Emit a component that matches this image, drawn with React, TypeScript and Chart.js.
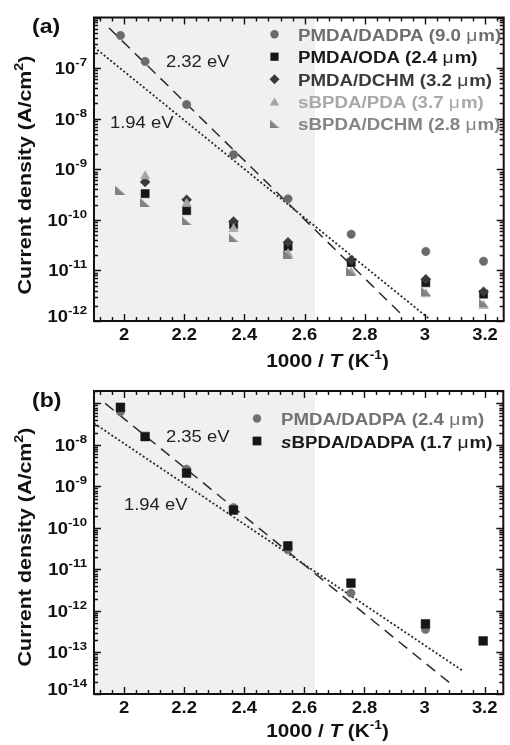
import React, { useEffect, useRef } from "react";
import { Chart, registerables } from "chart.js";
Chart.register(...registerables);

// ---------- data: panel (a) ----------
const xA_DADPA = [1.988, 2.07, 2.208, 2.364, 2.545, 2.755, 3.003, 3.195];
const yA_DADPA = [4.4e-7, 1.35e-7, 1.9e-8, 1.95e-9, 2.6e-10, 5.2e-11, 2.37e-11, 1.52e-11];
const xA_ODA = [2.07, 2.208, 2.364, 2.545, 2.755, 3.003, 3.195];
const yA_ODA = [3.3e-10, 1.52e-10, 8.0e-11, 3.0e-11, 1.43e-11, 5.7e-12, 3.4e-12];
const xA_DCHM = [2.07, 2.208, 2.364, 2.545, 2.755, 3.003, 3.195];
const yA_DCHM = [5.6e-10, 2.5e-10, 9.3e-11, 3.6e-11, 1.6e-11, 6.7e-12, 3.8e-12];
const xA_sPDA = [2.07, 2.208, 2.364, 2.545, 2.755, 3.003, 3.195];
const yA_sPDA = [7.3e-10, 2.07e-10, 6.6e-11, 2.1e-11, 9.1e-12, 3.4e-12, 2.0e-12];
const xA_sDCHM = [1.988, 2.07, 2.208, 2.364, 2.545, 2.755, 3.003, 3.195];
const yA_sDCHM = [3.8e-10, 2.2e-10, 9.6e-11, 4.4e-11, 2.1e-11, 9.5e-12, 3.9e-12, 2.3e-12];
const fitA_232_x = [1.95, 2.931];
const fitA_232_y = [6.2e-7, 1.2e-12];
const fitA_194_x = [1.9, 3.013];
const fitA_194_y = [2.6e-7, 1.12e-12];

// ---------- data: panel (b) ----------
const xB_DADPA = [1.988, 2.208, 2.364, 2.545, 2.755, 3.003];
const yB_DADPA = [6.3e-8, 2.6e-9, 3.1e-10, 3.0e-11, 2.7e-12, 3.6e-13];
const xB_sDADPA = [1.988, 2.07, 2.208, 2.364, 2.545, 2.755, 3.003, 3.195];
const yB_sDADPA = [8.1e-8, 1.6e-8, 2.1e-9, 2.7e-10, 3.7e-11, 4.7e-12, 4.9e-13, 1.9e-13];
const fitB_235_x = [1.937, 3.09];
const fitB_235_y = [1.01e-7, 1.7e-14];
const fitB_194_x = [1.9, 3.128];
const fitB_194_y = [3.33e-8, 3.58e-14];

// ---------- axes ----------
const xRange = [1.9, 3.262];
const xMajorTicks = [2, 2.2, 2.4, 2.6, 2.8, 3, 3.2];
const xTickLabels = ["2", "2.2", "2.4", "2.6", "2.8", "3", "3.2"];
const xMinorStep = 0.04;
const shadeRange = [1.9, 2.635];
const yRangeA = [1e-12, 1e-6];
const yLabelExpA = [-12, -11, -10, -9, -8, -7];
const yRangeB = [1e-14, 2e-7];
const yLabelExpB = [-14, -13, -12, -11, -10, -9, -8];

const FF = "'Liberation Sans', Arial, Helvetica, sans-serif";
const HS = 1.15;
const LHS = 1.17;
const B = (s: number) => `bold ${s}px ${FF}`;
const BI = (s: number) => `italic bold ${s}px ${FF}`;
const R = (s: number) => `${s}px ${FF}`;

type Run = { t: string; font: string; dy?: number };

function drawRuns(
  ctx: CanvasRenderingContext2D,
  runs: Run[],
  x: number,
  y: number,
  align: "left" | "center" | "right",
  sx: number,
  color: string,
  rotate = false
) {
  ctx.save();
  ctx.translate(x, y);
  if (rotate) ctx.rotate(-Math.PI / 2);
  ctx.scale(sx, 1);
  ctx.textAlign = "left";
  ctx.textBaseline = "alphabetic";
  ctx.fillStyle = color;
  const widths = runs.map((r) => {
    ctx.font = r.font;
    return ctx.measureText(r.t).width;
  });
  const total = widths.reduce((a, b) => a + b, 0);
  let cx = align === "left" ? 0 : align === "center" ? -total / 2 : -total;
  runs.forEach((r, i) => {
    ctx.font = r.font;
    ctx.fillText(r.t, cx, r.dy || 0);
    cx += widths[i];
  });
  ctx.restore();
}

function makeCornerTri(color: string, w: number, h: number) {
  const c = document.createElement("canvas");
  c.width = w;
  c.height = h;
  const g = c.getContext("2d")!;
  g.fillStyle = color;
  g.beginPath();
  g.moveTo(0, 0);
  g.lineTo(0, h);
  g.lineTo(w, h);
  g.closePath();
  g.fill();
  return c;
}

const pts = (xs: number[], ys: number[]) => xs.map((x, i) => ({ x, y: ys[i] }));

type LegendItem = { runs: Run[]; color: string; marker: string; mcolor: string; img?: HTMLCanvasElement; size: number };

type Spec = {
  tag: string;
  tagBaseline: number;
  yLabelExps: number[];
  yTitleCY: number;
  xTitleBaseline: number;
  ann: { runs: Run[]; x: number; y: number }[];
  legend: { mx: number; tx: number; baselines: number[]; items: LegendItem[] };
};

function drawMarker(ctx: CanvasRenderingContext2D, it: LegendItem, x: number, y: number) {
  ctx.save();
  ctx.fillStyle = it.mcolor;
  ctx.beginPath();
  const r = it.size;
  if (it.marker === "circle") {
    ctx.arc(x, y, r, 0, Math.PI * 2);
  } else if (it.marker === "rect") {
    const s = r * Math.SQRT1_2;
    ctx.rect(x - s, y - s, 2 * s, 2 * s);
  } else if (it.marker === "rectRot") {
    ctx.moveTo(x - r, y);
    ctx.lineTo(x, y - r);
    ctx.lineTo(x + r, y);
    ctx.lineTo(x, y + r);
    ctx.closePath();
  } else if (it.marker === "triangle") {
    ctx.moveTo(x, y - r);
    ctx.lineTo(x + r * 0.866, y + r / 2);
    ctx.lineTo(x - r * 0.866, y + r / 2);
    ctx.closePath();
  } else if (it.img) {
    ctx.drawImage(it.img, x - it.img.width / 2, y - it.img.height / 2);
  }
  ctx.fill();
  ctx.restore();
}

function makePlugin(spec: Spec) {
  return {
    id: "decor",
    beforeDraw(chart: any) {
      const { ctx, chartArea: a, scales } = chart;
      ctx.save();
      ctx.fillStyle = "#ffffff";
      ctx.fillRect(0, 0, chart.width, chart.height);
      const x0 = Math.max(a.left, scales.x.getPixelForValue(shadeRange[0]));
      const x1 = Math.min(a.right, scales.x.getPixelForValue(shadeRange[1]));
      ctx.fillStyle = "#f0f0f0";
      ctx.fillRect(x0, a.top, x1 - x0, a.bottom - a.top);
      ctx.restore();
    },
    afterDraw(chart: any) {
      const { ctx, chartArea: a, scales } = chart;
      const xs = scales.x;
      const ys = scales.y;
      ctx.save();
      ctx.strokeStyle = "#111";
      ctx.lineWidth = 1.4;
      ctx.beginPath();
      const majLen = 7;
      const minLen = 4;
      for (let v = xMajorTicks[0] - 2 * xMinorStep; v <= xRange[1] + 1e-9; v += xMinorStep) {
        const vv = Math.round(v * 1000) / 1000;
        if (vv < xRange[0]) continue;
        const isMaj = xMajorTicks.some((m) => Math.abs(m - vv) < 1e-6);
        const L = isMaj ? majLen : minLen;
        const px = Math.round(xs.getPixelForValue(vv)) + 0.5;
        ctx.moveTo(px, a.bottom);
        ctx.lineTo(px, a.bottom - L);
        ctx.moveTo(px, a.top);
        ctx.lineTo(px, a.top + L);
      }
      const eMin = Math.floor(Math.log10(ys.min) + 1e-9);
      const eMax = Math.ceil(Math.log10(ys.max) - 1e-9);
      for (let e = eMin; e <= eMax; e++) {
        for (let m = 1; m <= 9; m++) {
          const v = m * Math.pow(10, e);
          if (v < ys.min * 0.999 || v > ys.max * 1.001) continue;
          const L = m === 1 ? majLen : minLen;
          const py = Math.round(ys.getPixelForValue(v)) + 0.5;
          ctx.moveTo(a.left, py);
          ctx.lineTo(a.left + L, py);
          ctx.moveTo(a.right, py);
          ctx.lineTo(a.right - L, py);
        }
      }
      ctx.stroke();
      ctx.lineWidth = 2;
      ctx.strokeRect(a.left, a.top, a.right - a.left, a.bottom - a.top);
      ctx.restore();

      xMajorTicks.forEach((v, i) => {
        drawRuns(ctx, [{ t: xTickLabels[i], font: B(16) }], xs.getPixelForValue(v), a.bottom + 19, "center", HS, "#111");
      });
      spec.yLabelExps.forEach((e) => {
        const py = ys.getPixelForValue(Math.pow(10, e));
        const base = Math.min(py + 6, a.bottom + 1);
        drawRuns(
          ctx,
          [
            { t: "10", font: B(16) },
            { t: String(e), font: B(11.5), dy: -8 },
          ],
          a.left - 7,
          base,
          "right",
          HS,
          "#111"
        );
      });
      drawRuns(
        ctx,
        [
          { t: "Current density (A/cm", font: B(18) },
          { t: "2", font: B(12), dy: -8 },
          { t: ")", font: B(18) },
        ],
        31,
        spec.yTitleCY,
        "center",
        1.19,
        "#111",
        true
      );
      drawRuns(
        ctx,
        [
          { t: "1000 / ", font: B(18) },
          { t: "T", font: BI(18) },
          { t: " (K", font: B(18) },
          { t: "-1", font: B(12), dy: -8 },
          { t: ")", font: B(18) },
        ],
        327.5,
        spec.xTitleBaseline,
        "center",
        HS,
        "#111"
      );
      drawRuns(ctx, [{ t: spec.tag, font: B(20) }], 32, spec.tagBaseline, "left", HS, "#111");
      spec.ann.forEach((an) => drawRuns(ctx, an.runs, an.x, an.y, "left", HS, "#222"));
      const lg = spec.legend;
      lg.items.forEach((it, i) => {
        const b = lg.baselines[i];
        drawMarker(ctx, it, lg.mx, b - 6.5 + (it.marker === "triangle" ? 1.3 : 0));
        drawRuns(ctx, it.runs, lg.tx, b, "left", LHS, it.color);
      });
    },
  };
}

const mu = (pre: string, post: string, lead?: Run): Run[] => [
  ...(lead ? [lead] : []),
  { t: pre, font: B(16) },
  { t: "\u03bc", font: R(16.5) },
  { t: " ", font: R(3) },
  { t: post, font: B(16) },
];

function baseOptions(yMin: number, yMax: number, pad: any) {
  return {
    responsive: false,
    animation: false as const,
    events: [] as any[],
    layout: { padding: pad },
    plugins: { legend: { display: false }, tooltip: { enabled: false }, title: { display: false } },
    scales: {
      x: { type: "linear" as const, min: xRange[0], max: xRange[1], display: false },
      y: { type: "logarithmic" as const, min: yMin, max: yMax, display: false },
    },
  };
}

const lineDs = (xs: number[], ys: number[], dash: number[], width: number) => ({
  data: pts(xs, ys),
  showLine: true,
  pointRadius: 0,
  borderColor: "#2a2a2a",
  borderWidth: width,
  borderDash: dash,
  fill: false,
  order: 20,
});

const ptDs = (label: string, xs: number[], ys: number[], style: any, color: string, r: number, order: number) => ({
  label,
  data: pts(xs, ys),
  showLine: false,
  pointStyle: style,
  pointRadius: r,
  pointBackgroundColor: color,
  pointBorderColor: color,
  pointBorderWidth: 0.5,
  order,
});

export default function App() {
  const refA = useRef<HTMLCanvasElement>(null);
  const refB = useRef<HTMLCanvasElement>(null);
  useEffect(() => {
    const cA_circle = "#6a6a6a";
    const cA_sq = "#161616";
    const cA_dia = "#3a3a3a";
    const cA_tri = "#a6a6a6";
    const cA_rt = "#828282";
    const rtImg = makeCornerTri(cA_rt, 10, 9);

    const specA: Spec = {
      tag: "(a)",
      tagBaseline: 33,
      yLabelExps: yLabelExpA,
      yTitleCY: 175,
      xTitleBaseline: 367,
      ann: [
        { runs: [{ t: "2.32 eV", font: R(16) }], x: 166, y: 67 },
        { runs: [{ t: "1.94 eV", font: R(16) }], x: 110, y: 128 },
      ],
      legend: {
        mx: 274.5,
        tx: 298,
        baselines: [40.7, 63.2, 85.7, 108, 130.3],
        items: [
          { runs: mu("PMDA/DADPA (9.0 ", "m)"), color: "#6e6e6e", marker: "circle", mcolor: cA_circle, size: 4.2 },
          { runs: mu("PMDA/ODA (2.4 ", "m)"), color: "#1a1a1a", marker: "rect", mcolor: cA_sq, size: 5.8 },
          { runs: mu("PMDA/DCHM (3.2 ", "m)"), color: "#3a3a3a", marker: "rectRot", mcolor: cA_dia, size: 5 },
          { runs: mu("sBPDA/PDA (3.7 ", "m)"), color: "#a8a8a8", marker: "triangle", mcolor: cA_tri, size: 5.5 },
          { runs: mu("sBPDA/DCHM (2.8 ", "m)"), color: "#848484", marker: "img", mcolor: cA_rt, img: rtImg, size: 5 },
        ],
      },
    };

    const cB_circle = "#707070";
    const cB_sq = "#161616";
    const specB: Spec = {
      tag: "(b)",
      tagBaseline: 37,
      yLabelExps: yLabelExpB,
      yTitleCY: 177,
      xTitleBaseline: 367,
      ann: [
        { runs: [{ t: "2.35 eV", font: R(16) }], x: 166, y: 71.7 },
        { runs: [{ t: "1.94 eV", font: R(16) }], x: 124, y: 140 },
      ],
      legend: {
        mx: 257,
        tx: 281,
        baselines: [55, 77.5],
        items: [
          { runs: mu("PMDA/DADPA (2.4 ", "m)"), color: "#737373", marker: "circle", mcolor: cB_circle, size: 4.2 },
          {
            runs: mu("BPDA/DADPA (1.7 ", "m)", { t: "s", font: BI(16) }),
            color: "#1a1a1a",
            marker: "rect",
            mcolor: cB_sq,
            size: 6.2,
          },
        ],
      },
    };

    const chartA = new Chart(refA.current!, {
      type: "scatter",
      data: {
        datasets: [
          lineDs(fitA_232_x, fitA_232_y, [11, 7], 1.5),
          lineDs(fitA_194_x, fitA_194_y, [2, 2.2], 1.8),
          ptDs("PMDA/DADPA (9.0 μm)", xA_DADPA, yA_DADPA, "circle", cA_circle, 4.2, 5),
          ptDs("PMDA/ODA (2.4 μm)", xA_ODA, yA_ODA, "rect", cA_sq, 5.8, 4),
          ptDs("PMDA/DCHM (3.2 μm)", xA_DCHM, yA_DCHM, "rectRot", cA_dia, 5, 3),
          ptDs("sBPDA/PDA (3.7 μm)", xA_sPDA, yA_sPDA, "triangle", cA_tri, 5.5, 2),
          ptDs("sBPDA/DCHM (2.8 μm)", xA_sDCHM, yA_sDCHM, rtImg, cA_rt, 5, 1),
        ] as any,
      },
      options: baseOptions(yRangeA[0], yRangeA[1], { left: 94, top: 17.5, right: 2, bottom: 49 }) as any,
      plugins: [makePlugin(specA)],
    });

    const chartB = new Chart(refB.current!, {
      type: "scatter",
      data: {
        datasets: [
          lineDs(fitB_235_x, fitB_235_y, [11, 7], 1.5),
          lineDs(fitB_194_x, fitB_194_y, [2, 2.2], 1.8),
          ptDs("PMDA/DADPA (2.4 μm)", xB_DADPA, yB_DADPA, "circle", cB_circle, 4.2, 2),
          ptDs("sBPDA/DADPA (1.7 μm)", xB_sDADPA, yB_sDADPA, "rect", cB_sq, 6.2, 1),
        ] as any,
      },
      options: baseOptions(yRangeB[0], yRangeB[1], { left: 94, top: 21, right: 2, bottom: 51 }) as any,
      plugins: [makePlugin(specB)],
    });

    return () => {
      chartA.destroy();
      chartB.destroy();
    };
  }, []);

  return (
    <div style={{ position: "absolute", left: 0, top: 0, width: 510, height: 745, background: "#fff" }}>
      <canvas ref={refA} width={510} height={370} style={{ display: "block", width: 510, height: 370 }} />
      <canvas ref={refB} width={510} height={375} style={{ display: "block", width: 510, height: 375 }} />
    </div>
  );
}
